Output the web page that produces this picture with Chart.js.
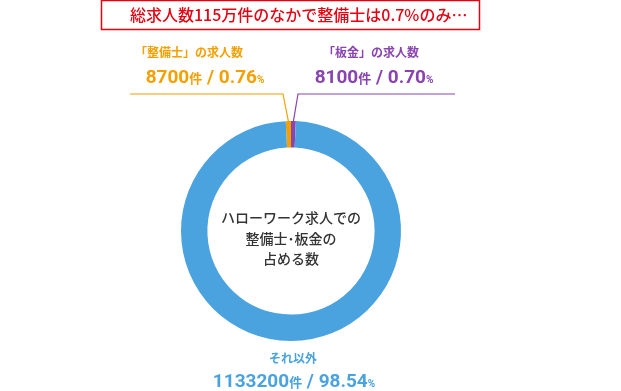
<!DOCTYPE html>
<html lang="ja">
<head>
<meta charset="utf-8">
<script src="https://cdn.jsdelivr.net/npm/chart.js@4/dist/chart.umd.min.js"></script>
<style>
  html, body { margin: 0; padding: 0; background: #fff; }
  #wrap { width: 621px; height: 391px; position: relative; }
</style>
</head>
<body>
<div id="wrap"><canvas id="donut" width="621" height="391"></canvas></div>
<script>
// ---- data ----
const categories = ['「整備士」の求人数', '「板金」の求人数', 'それ以外'];
const counts = [8700, 8100, 1133200];
const percents = ['0.76', '0.70', '98.54'];
const colors = ['#f4a000', '#8a44b0', '#4aa3df'];
const centerLines = ['ハローワーク求人での', '整備士･板金の', '占める数'];
const headline = '総求人数115万件のなかで整備士は0.7%のみ…';

const JP = '"Noto Sans CJK JP", "Noto Sans", sans-serif';
const NUM = 'Roboto, "Noto Sans", sans-serif';

// draw a row of differently sized text runs, centred on x
function drawRuns(ctx, runs, cx, baseline, color) {
  let total = 0;
  runs.forEach(r => { ctx.font = r.font; r.w = ctx.measureText(r.text).width; total += r.w; });
  let x = cx - total / 2;
  ctx.fillStyle = color;
  ctx.textAlign = 'left';
  ctx.textBaseline = 'alphabetic';
  runs.forEach(r => { ctx.font = r.font; ctx.fillText(r.text, x, baseline); x += r.w; });
}

function valueRuns(i) {
  return [
    { text: String(counts[i]), font: 'bold 19px ' + NUM },
    { text: '件', font: 'bold 13px ' + JP },
    { text: ' / ' + percents[i], font: 'bold 19px ' + NUM },
    { text: '%', font: 'bold 10px ' + NUM }
  ];
}

const labelsPlugin = {
  id: 'labels',
  afterDraw(chart) {
    const ctx = chart.ctx;
    const arcs = chart.getDatasetMeta(0).data;
    ctx.save();

    // headline box
    ctx.strokeStyle = '#e60012';
    ctx.lineWidth = 1.5;
    ctx.strokeRect(101.5, 0.5, 378, 29);
    ctx.fillStyle = '#e60012';
    ctx.font = '500 16px ' + JP;
    ctx.textBaseline = 'middle';
    ctx.textAlign = 'left';
    ctx.fillText(headline, 130, 15);

    // leader lines from the small slices
    const lineY = 94;
    [[0, 130, 283], [1, 455, 298]].forEach(([i, farX, nearX]) => {
      const a = arcs[i];
      const mid = (a.startAngle + a.endAngle) / 2;
      const px = a.x + Math.cos(mid) * a.outerRadius;
      const py = a.y + Math.sin(mid) * a.outerRadius;
      ctx.strokeStyle = colors[i];
      ctx.lineWidth = 1.2;
      ctx.beginPath();
      ctx.moveTo(farX, lineY);
      ctx.lineTo(nearX, lineY);
      ctx.lineTo(px, py);
      ctx.stroke();
    });

    // slice labels
    ctx.font = 'bold 12px ' + JP;
    ctx.textAlign = 'center';
    ctx.textBaseline = 'middle';
    ctx.fillStyle = colors[0];
    ctx.fillText(categories[0], 189, 52);
    ctx.fillStyle = colors[1];
    ctx.fillText(categories[1], 371, 52);
    ctx.fillStyle = colors[2];
    ctx.fillText(categories[2], 293, 358);

    drawRuns(ctx, valueRuns(0), 205, 83, colors[0]);
    drawRuns(ctx, valueRuns(1), 374, 83, colors[1]);
    drawRuns(ctx, valueRuns(2), 294, 387, colors[2]);

    // centre text
    const c = arcs[0];
    ctx.fillStyle = '#333';
    ctx.font = '500 14px ' + JP;
    ctx.textAlign = 'center';
    ctx.textBaseline = 'middle';
    centerLines.forEach((t, k) => ctx.fillText(t, c.x, c.y - 13 + k * 20.5));
    ctx.restore();
  }
};

new Chart(document.getElementById('donut'), {
  type: 'doughnut',
  data: {
    labels: categories,
    datasets: [{
      data: counts,
      backgroundColor: colors,
      borderWidth: 0
    }]
  },
  options: {
    responsive: false,
    animation: false,
    cutout: '76%',
    rotation: -0.76 * 3.6,
    layout: { padding: { top: 121, bottom: 50, left: 181, right: 220 } },
    plugins: { legend: { display: false }, tooltip: { enabled: false } }
  },
  plugins: [labelsPlugin]
});
</script>
</body>
</html>
